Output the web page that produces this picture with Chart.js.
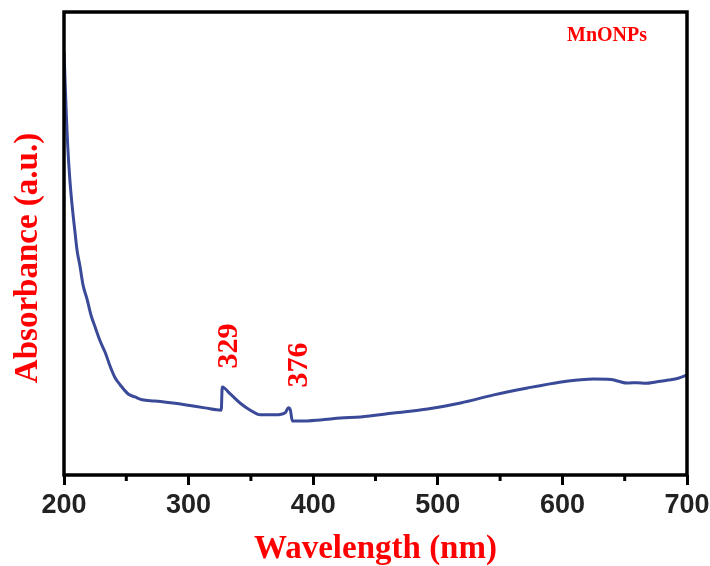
<!DOCTYPE html>
<html lang="en">
<head>
    <meta charset="UTF-8">
    <title>MnONPs UV-Vis</title>
    <script src="https://cdn.jsdelivr.net/npm/chart.js"></script>
    <style>
        body {
            margin: 0;
            background: #ffffff;
        }
        #wrap {
            width: 710px;
            height: 566px;
            position: relative;
        }
    </style>
</head>
<body>
    <div id="wrap">
        <canvas id="uvChart" width="710" height="566"></canvas>
    </div>

    <script>
        // spectrum
        const wavelength = [200, 201, 202, 203, 204.5, 206.4, 208.8, 210.5, 212.9, 215.3,
            218.5, 221.7, 224.9, 228.9, 233, 237, 241, 245, 251.5, 257,
            262.7, 273, 289, 301, 313, 326.2, 327, 333.4, 341.5, 349.5,
            357.6, 369.6, 377.7, 380.1, 381.7, 383.3, 389.7, 405.8, 422, 438,
            464.5, 491.8, 518.3, 545, 572, 599, 612, 625, 639, 645,
            652, 660, 667, 675, 685, 693, 700];
        const absorbance = [1.83, 1.68, 1.54, 1.42, 1.29, 1.17, 1.05, 0.97, 0.90, 0.82,
            0.76, 0.69, 0.64, 0.58, 0.53, 0.47, 0.42, 0.39, 0.35, 0.337,
            0.325, 0.32, 0.31, 0.30, 0.29, 0.28, 0.38, 0.35, 0.31, 0.28,
            0.26, 0.26, 0.27, 0.29, 0.28, 0.233, 0.233, 0.238, 0.246, 0.251,
            0.268, 0.285, 0.311, 0.346, 0.376, 0.402, 0.41, 0.415, 0.413, 0.405,
            0.397, 0.399, 0.396, 0.402, 0.41, 0.418, 0.432];

        const xTicks = [200, 300, 400, 500, 600, 700];
        const xMinorTicks = [250, 350, 450, 550, 650];

        // peak labels: text, x and y (data units) of the label centre
        const peakLabels = ['329', '376'];
        const peakLabelX = [333, 389];
        const peakLabelY = [0.557, 0.475];

        const sampleName = 'MnONPs';
        const xTitle = 'Wavelength (nm)';
        const yTitle = 'Absorbance (a.u.)';

        const red = '#ff0000';
        const serif = "'Liberation Serif', 'Times New Roman', serif";

        const points = wavelength.map((w, i) => ({ x: w, y: absorbance[i] }));

        const framePlugin = {
            id: 'frame',
            afterDraw(chart) {
                const { ctx, chartArea: a, scales } = chart;
                const xs = scales.x, ys = scales.y;
                ctx.save();
                // box
                ctx.strokeStyle = '#000';
                ctx.lineWidth = 3.5;
                ctx.strokeRect(a.left, a.top, a.right - a.left, a.bottom - a.top);

                // minor ticks
                ctx.lineWidth = 3;
                xMinorTicks.forEach(v => {
                    const px = xs.getPixelForValue(v);
                    ctx.beginPath();
                    ctx.moveTo(px, a.bottom);
                    ctx.lineTo(px, a.bottom + 6);
                    ctx.stroke();
                });

                // peak labels
                ctx.fillStyle = red;
                ctx.font = 'bold 30px ' + serif;
                ctx.textAlign = 'center';
                ctx.textBaseline = 'middle';
                peakLabels.forEach((t, i) => {
                    ctx.save();
                    ctx.translate(xs.getPixelForValue(peakLabelX[i]), ys.getPixelForValue(peakLabelY[i]));
                    ctx.rotate(-Math.PI / 2);
                    ctx.fillText(t, 0, 0);
                    ctx.restore();
                });

                // sample name
                ctx.font = 'bold 20px ' + serif;
                ctx.fillText(sampleName, a.right - 80, a.top + 24);

                // y title
                ctx.font = 'bold 33px ' + serif;
                ctx.translate(28, 258);
                ctx.rotate(-Math.PI / 2);
                ctx.fillText(yTitle, 0, 0);
                ctx.restore();
            }
        };

        new Chart(document.getElementById('uvChart'), {
            type: 'line',
            data: {
                datasets: [{
                    data: points,
                    borderColor: '#3b4a98',
                    borderWidth: 3,
                    pointRadius: 0,
                    cubicInterpolationMode: 'monotone',
                    fill: false
                }]
            },
            options: {
                responsive: false,
                animation: false,
                events: [],
                layout: {
                    padding: { left: 64, top: 12, right: 23, bottom: 0 }
                },
                plugins: {
                    legend: { display: false },
                    tooltip: { enabled: false }
                },
                scales: {
                    x: {
                        type: 'linear',
                        min: 200,
                        max: 700,
                        afterBuildTicks(scale) {
                            scale.ticks = xTicks.map(v => ({ value: v }));
                        },
                        afterFit(scale) {
                            scale.height = 91;
                            scale.paddingLeft = 0;
                            scale.paddingRight = 0;
                        },
                        border: { display: false },
                        grid: {
                            drawOnChartArea: false,
                            drawTicks: true,
                            tickLength: 10,
                            tickWidth: 3,
                            tickColor: '#000'
                        },
                        ticks: {
                            color: '#222',
                            padding: 4,
                            maxRotation: 0,
                            font: { family: "'Liberation Sans', Arial, sans-serif", size: 27, weight: 'bold' }
                        },
                        title: {
                            display: true,
                            text: xTitle,
                            color: red,
                            padding: { top: 0, bottom: 0 },
                            font: { family: serif, size: 33, weight: 'bold', lineHeight: 1 }
                        }
                    },
                    y: {
                        display: false,
                        min: 0,
                        max: 2
                    }
                }
            },
            plugins: [framePlugin]
        });
    </script>
</body>
</html>
